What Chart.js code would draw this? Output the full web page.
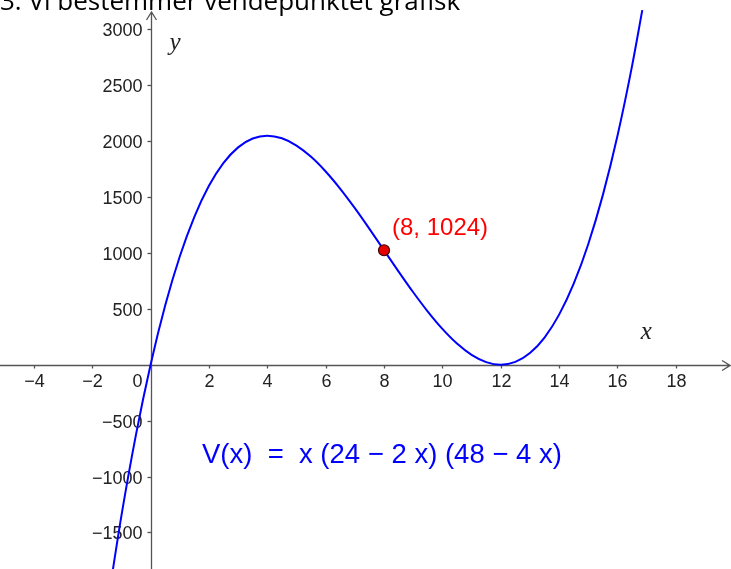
<!DOCTYPE html>
<html>
<head>
<meta charset="utf-8">
<script src="https://cdn.jsdelivr.net/npm/chart.js@4.4.1/dist/chart.umd.min.js"></script>
<style>
  html, body { margin: 0; padding: 0; background: #fff; }
  #wrap { position: relative; width: 731px; height: 569px; }
</style>
</head>
<body>
<div id="wrap"><canvas id="graf"></canvas></div>
<script>
// V(x) = x(24 - 2x)(48 - 4x), verdier lest av grafen
var xVerdier = [-1.5, -1, -0.5, 0, 0.5, 1, 1.5, 2, 2.5, 3, 3.5, 4, 4.5, 5, 5.5, 6, 6.5, 7, 7.5, 8,
                8.5, 9, 9.5, 10, 10.5, 11, 11.5, 12, 12.5, 13, 13.5, 14, 14.5, 15, 15.5, 16, 16.5, 16.85];
var vVerdier = [-2187, -1352, -625, 0, 529, 968, 1323, 1600, 1805, 1944, 2023, 2048, 2025, 1960, 1859, 1728, 1573, 1400, 1215, 1024,
                833, 648, 475, 320, 189, 88, 23, 0, 25, 104, 243, 448, 725, 1080, 1519, 2048, 2673, 3171];

// vendepunktet
var punktX = [8];
var punktY = [1024];
var punktTekst = ['(8, 1024)'];

var xTicks = [-4, -2, 2, 4, 6, 8, 10, 12, 14, 16, 18];
var yTicks = [-1500, -1000, -500, 500, 1000, 1500, 2000, 2500, 3000];

var tittel = '3. Vi bestemmer vendepunktet grafisk';
var formel = 'V(x)  =  x (24 \u2212 2 x) (48 \u2212 4 x)';

var kurve = xVerdier.map(function (x, i) { return { x: x, y: vVerdier[i] }; });
var punkter = punktX.map(function (x, i) { return { x: x, y: punktY[i] }; });

function tallTekst(v) {
    return v < 0 ? '\u2212' + Math.abs(v) : String(v);
}

var akseFarge = '#555555';

// Akser gjennom origo, med piler, merker og tall
var akser = {
    id: 'akser',
    beforeDatasetsDraw: function (chart) {
        var c = chart.ctx, sx = chart.scales.x, sy = chart.scales.y, a = chart.chartArea;
        var x0 = Math.round(sx.getPixelForValue(0)) + 0.5;
        var y0 = Math.round(sy.getPixelForValue(0)) + 0.5;
        c.save();
        c.strokeStyle = akseFarge;
        c.lineWidth = 1.3;

        // x-akse med pil
        c.beginPath();
        c.moveTo(a.left, y0);
        c.lineTo(a.right - 1, y0);
        c.moveTo(a.right - 9, y0 - 5);
        c.lineTo(a.right - 1, y0);
        c.lineTo(a.right - 9, y0 + 5);
        c.stroke();

        // y-akse med pil
        c.beginPath();
        c.moveTo(x0, a.bottom);
        c.lineTo(x0, a.top + 12);
        c.moveTo(x0 - 5, a.top + 20);
        c.lineTo(x0, a.top + 12);
        c.lineTo(x0 + 5, a.top + 20);
        c.stroke();

        c.fillStyle = '#222';
        c.font = '18px "Liberation Sans", Arial, sans-serif';

        c.textAlign = 'center';
        c.textBaseline = 'middle';
        xTicks.forEach(function (v) {
            var px = Math.round(sx.getPixelForValue(v)) + 0.5;
            c.beginPath();
            c.moveTo(px, y0);
            c.lineTo(px, y0 + 3);
            c.stroke();
            c.fillText(tallTekst(v), px, y0 + 17);
        });
        c.fillText('0', x0 - 14, y0 + 17);

        c.textAlign = 'right';
        yTicks.forEach(function (v) {
            var py = Math.round(sy.getPixelForValue(v)) + 0.5;
            c.beginPath();
            c.moveTo(x0 - 4, py);
            c.lineTo(x0, py);
            c.stroke();
            c.fillText(tallTekst(v), x0 - 9, py + 2);
        });

        // aksenavn
        c.font = 'italic 25px "Liberation Serif", "DejaVu Serif", serif';
        c.textAlign = 'left';
        c.fillText('y', x0 + 18, a.top + 43);
        c.fillText('x', sx.getPixelForValue(16.8), y0 - 33);
        c.restore();
    },
    afterDatasetsDraw: function (chart) {
        var c = chart.ctx, sx = chart.scales.x, sy = chart.scales.y, a = chart.chartArea;
        c.save();
        c.textAlign = 'left';
        c.textBaseline = 'middle';

        c.fillStyle = '#ff0000';
        c.font = '24px "Liberation Sans", Arial, sans-serif';
        punktX.forEach(function (x, i) {
            c.fillText(punktTekst[i], sx.getPixelForValue(x) + 8, sy.getPixelForValue(punktY[i]) - 22);
        });

        c.fillStyle = '#0000ff';
        c.font = '27.5px "Liberation Sans", Arial, sans-serif';
        c.fillText(formel, sx.getPixelForValue(1.76), sy.getPixelForValue(-808));

        // overskrift, bare nederste del synes
        c.fillStyle = '#fff';
        c.fillRect(a.left, a.top, a.right - a.left, 10);
        c.fillStyle = '#000';
        c.textBaseline = 'alphabetic';
        c.font = '26px "Open Sans", sans-serif';
        c.fillText(tittel, 0, 10);
        c.restore();
    }
};

new Chart(document.getElementById('graf'), {
    type: 'line',
    data: {
        datasets: [{
            data: kurve,
            borderColor: '#0000ff',
            borderWidth: 2,
            pointRadius: 0,
            cubicInterpolationMode: 'monotone',
            fill: false,
            order: 2
        }, {
            type: 'scatter',
            data: punkter,
            pointRadius: 5.5,
            backgroundColor: '#e60000',
            borderColor: '#3a0000',
            borderWidth: 1.2,
            order: 1
        }]
    },
    options: {
        animation: false,
        responsive: true,
        maintainAspectRatio: false,
        events: [],
        layout: { padding: 0, autoPadding: false },
        plugins: { legend: { display: false }, tooltip: { enabled: false } },
        scales: {
            x: { type: 'linear', min: -5.16, max: 19.89, display: false },
            y: { type: 'linear', min: -1827, max: 3262, display: false }
        }
    },
    plugins: [akser]
});
</script>
</body>
</html>
